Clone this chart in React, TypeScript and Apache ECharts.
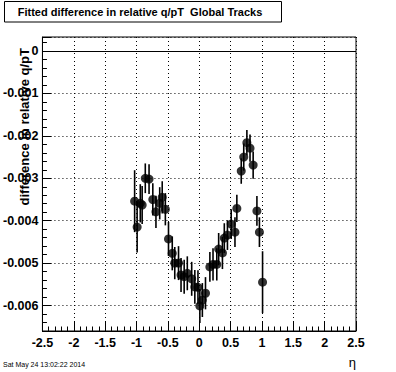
import React, { useEffect, useRef } from "react";
import * as echarts from "echarts";

const etaValues: number[] = [
  -1.03, -0.99, -0.94, -0.91, -0.86, -0.8, -0.74, -0.69, -0.63, -0.59, -0.54,
  -0.49, -0.43, -0.39, -0.33, -0.29, -0.24, -0.19, -0.12, -0.07, -0.02, 0.01,
  0.05, 0.1, 0.17, 0.22, 0.28, 0.31, 0.37, 0.4, 0.45, 0.51, 0.57, 0.6, 0.67,
  0.71, 0.76, 0.81, 0.86, 0.92, 0.96, 1.01,
];

// fitted difference values (in units of 1e-3)
const diffValues: number[] = [
  -3.54, -4.15, -3.59, -3.63, -3.0, -3.02, -3.5, -3.79, -3.59, -3.45, -3.73,
  -4.43, -4.77, -5.0, -5.0, -5.28, -5.32, -5.24, -5.37, -5.56, -5.57, -6.01,
  -5.87, -5.71, -5.09, -5.03, -5.03, -4.67, -4.76, -4.41, -4.34, -4.08, -4.27,
  -3.71, -2.83, -2.5, -2.16, -2.29, -2.69, -3.77, -4.27, -5.45,
];

// errors (in units of 1e-3)
const diffErrors: number[] = [
  0.73, 0.6, 0.45, 0.45, 0.35, 0.35, 0.38, 0.38, 0.38, 0.38, 0.38,
  0.4, 0.4, 0.38, 0.4, 0.4, 0.4, 0.4, 0.4, 0.4, 0.4, 0.4,
  0.4, 0.38, 0.35, 0.38, 0.38, 0.38, 0.38, 0.35, 0.35, 0.35, 0.35,
  0.32, 0.3, 0.32, 0.3, 0.32, 0.32, 0.35, 0.35, 0.73,
];

const xTicks = { min: -2.5, max: 2.5, step: 0.5 };
const yRange = { min: -0.0066, max: 0.00033, major: 0.001, minor: 0.0002 };

const titleText = "Fitted difference in relative q/pT  Global Tracks";
const yTitle = "difference in relative q/pT";
const xTitle = "η";
const dateText = "Sat May 24 13:02:22 2014";

const FONT = "'Liberation Sans', Arial, Helvetica, sans-serif";

export default function App() {
  const ref = useRef<HTMLDivElement>(null);
  useEffect(() => {
    if (!ref.current) return;
    const chart = echarts.init(ref.current, null, { renderer: "svg" });
    const pts = etaValues.map((e, i) => [e, diffValues[i] * 1e-3]);
    const bars = etaValues.map((e, i) => [
      e,
      (diffValues[i] - diffErrors[i]) * 1e-3,
      (diffValues[i] + diffErrors[i]) * 1e-3,
    ]);
    const isMajor = (v: number) =>
      Math.abs(v / yRange.major - Math.round(v / yRange.major)) < 1e-6;
    chart.setOption({
      animation: false,
      backgroundColor: "#fff",
      grid: {
        left: 40,
        right: 40,
        top: 37,
        bottom: 41,
        show: true,
        borderColor: "#000",
        borderWidth: 1,
        backgroundColor: "transparent",
      },
      xAxis: {
        type: "value",
        min: xTicks.min,
        max: xTicks.max,
        interval: xTicks.step,
        axisLine: { show: true, onZero: false, lineStyle: { color: "#000", width: 1 } },
        axisTick: { show: true, inside: true, length: 9, lineStyle: { color: "#000" } },
        minorTick: { show: true, splitNumber: 5, length: 4.5, lineStyle: { color: "#000" } },
        axisLabel: {
          color: "#000",
          fontFamily: FONT,
          fontWeight: "bold",
          fontSize: 12.5,
          margin: 5,
          formatter: (v: number) => String(v),
        },
        splitLine: { show: true, lineStyle: { color: "#000", type: [1, 3], width: 1 } },
      },
      yAxis: [
        {
          type: "value",
          position: "left",
          min: yRange.min,
          max: yRange.max,
          splitNumber: 7,
          minInterval: yRange.major,
          maxInterval: yRange.major,
          axisLine: { show: true, onZero: false, lineStyle: { color: "#000", width: 1 } },
          axisTick: { show: true, inside: true, length: 9, lineStyle: { color: "#000" } },
          axisLabel: {
            color: "#000",
            fontFamily: FONT,
            fontWeight: "bold",
            fontSize: 12.5,
            margin: 4,
            showMinLabel: true,
            showMaxLabel: true,
            formatter: (v: number) => {
              if (!isMajor(v)) return "";
              const r = Math.round(v / yRange.major);
              return r === 0 ? "0" : (r * yRange.major).toFixed(3);
            },
          },
          splitLine: { show: true, lineStyle: { color: "#000", type: [1, 3], width: 1 } },
        },
        {
          type: "value",
          position: "left",
          min: yRange.min,
          max: yRange.max,
          interval: yRange.minor,
          axisLine: { show: false, onZero: false },
          axisTick: { show: true, inside: true, length: 4.5, lineStyle: { color: "#000" } },
          axisLabel: { show: false },
          splitLine: { show: false },
        },
      ],
      series: [
        {
          type: "custom",
          yAxisIndex: 0,
          data: bars,
          encode: { x: 0, y: [1, 2] },
          renderItem: (params: any, api: any) => {
            const x = api.value(0);
            const p1 = api.coord([x, api.value(1)]);
            const p2 = api.coord([x, api.value(2)]);
            return {
              type: "line",
              shape: { x1: p1[0], y1: p1[1], x2: p2[0], y2: p2[1] },
              style: { stroke: "#000", lineWidth: 1.6 },
            };
          },
          z: 3,
        },
        {
          type: "scatter",
          yAxisIndex: 0,
          data: pts,
          symbol: "circle",
          symbolSize: 9,
          itemStyle: { color: "#000" },
          z: 4,
          markLine: {
            silent: true,
            symbol: "none",
            label: { show: false },
            lineStyle: { color: "#000", type: "solid", width: 1 },
            data: [{ yAxis: 0 }],
          },
        },
      ],
      graphic: [
        {
          type: "rect",
          z: 100,
          shape: { x: 4.5, y: 1.5, width: 277, height: 20.5 },
          style: { fill: "#fff", stroke: "#000", lineWidth: 1 },
        },
        {
          type: "text",
          z: 101,
          x: 140,
          y: 12,
          style: {
            text: titleText,
            fill: "#000",
            font: `bold 11px ${FONT}`,
            align: "center",
            verticalAlign: "middle",
          },
        },
        {
          type: "text",
          z: 101,
          x: 24,
          y: 48,
          rotation: Math.PI / 2,
          style: {
            text: yTitle,
            fill: "#000",
            font: `bold 13px ${FONT}`,
            align: "right",
            verticalAlign: "middle",
          },
        },
        {
          type: "text",
          z: 101,
          x: 356,
          y: 362,
          style: {
            text: xTitle,
            fill: "#000",
            font: `13px ${FONT}`,
            align: "right",
            verticalAlign: "middle",
          },
        },
        {
          type: "text",
          z: 101,
          x: 3,
          y: 364,
          style: {
            text: dateText,
            fill: "#000",
            font: `7px ${FONT}`,
            align: "left",
            verticalAlign: "middle",
          },
        },
      ],
    });
    return () => chart.dispose();
  }, []);
  return (
    <div
      ref={ref}
      style={{ position: "absolute", left: 0, top: 0, width: 396, height: 372, background: "#fff" }}
    />
  );
}
